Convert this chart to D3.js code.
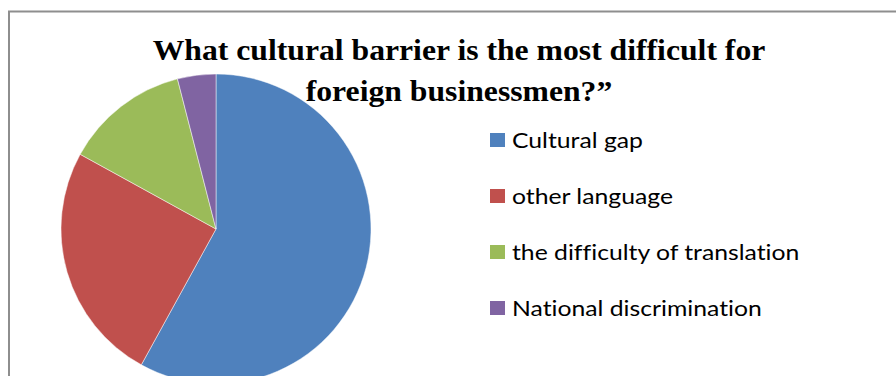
<!DOCTYPE html>
<html>
<head>
<meta charset="utf-8">
<script src="https://cdn.jsdelivr.net/npm/d3@7"></script>
<style>
  html, body { margin: 0; padding: 0; background: #fff; overflow: hidden; }
  svg { display: block; }
  .legend-label { font-variant-ligatures: none; }
</style>
</head>
<body>
<svg id="chart" width="896" height="376"></svg>
<script>
// Survey answers (percent of respondents)
const categories = ["Cultural gap", "other language", "the difficulty of translation", "National discrimination"];
const values = [58, 25, 13, 4];
const colors = ["#4F81BD", "#C0504D", "#9BBB59", "#8064A2"];
const titleLines = ["What cultural barrier is the most difficult for", "foreign businessmen?\u201D"];

const svg = d3.select("#chart");
const W = 896, H = 376;

// Chart frame (extends past the right edge)
svg.append("rect")
  .attr("x", 9).attr("y", 11.5)
  .attr("width", W + 20).attr("height", H + 20)
  .attr("fill", "#fff")
  .attr("stroke", "#8e8e8e")
  .attr("stroke-width", 2);

const data = categories.map((c, i) => ({ name: c, value: values[i], color: colors[i] }));

// Pie
const cx = 216, cy = 229, R = 155;
const pie = d3.pie().value(d => d.value).sort(null);
const arc = d3.arc().innerRadius(0).outerRadius(R);

svg.append("g")
  .attr("transform", `translate(${cx},${cy})`)
  .selectAll("path")
  .data(pie(data))
  .join("path")
  .attr("d", arc)
  .attr("fill", d => d.data.color)
  .attr("stroke", "rgba(255,255,255,0.6)")
  .attr("stroke-width", 0.8);

// Title (two centred lines, slightly widened type)
const titleG = svg.append("g")
  .attr("transform", "translate(459,0) scale(1.093,1)");
titleG.selectAll("text")
  .data(titleLines)
  .join("text")
  .attr("x", 0)
  .attr("y", (d, i) => 60 + i * 41.5)
  .attr("text-anchor", "middle")
  .attr("font-family", "'Liberation Serif', 'Times New Roman', serif")
  .attr("font-weight", "bold")
  .attr("font-size", 29)
  .attr("fill", "#000")
  .text(d => d);

// Legend
const legend = svg.append("g");
const rowY = d3.scalePoint().domain(categories).range([140, 308]);
const rows = legend.selectAll("g")
  .data(data)
  .join("g")
  .attr("transform", d => `translate(490,${rowY(d.name)})`);
rows.append("rect")
  .attr("x", 0).attr("y", -7)
  .attr("width", 15).attr("height", 14)
  .attr("fill", d => d.color);
rows.append("g")
  .attr("transform", "translate(22,0) scale(1.125,1)")
  .append("text")
  .attr("class", "legend-label")
  .attr("x", 0).attr("y", 0)
  .attr("dy", "0.35em")
  .attr("font-family", "Lato, 'Open Sans', sans-serif")
  .attr("font-size", 22)
  .attr("fill", "#000")
  .text(d => d.name);
</script>
</body>
</html>
